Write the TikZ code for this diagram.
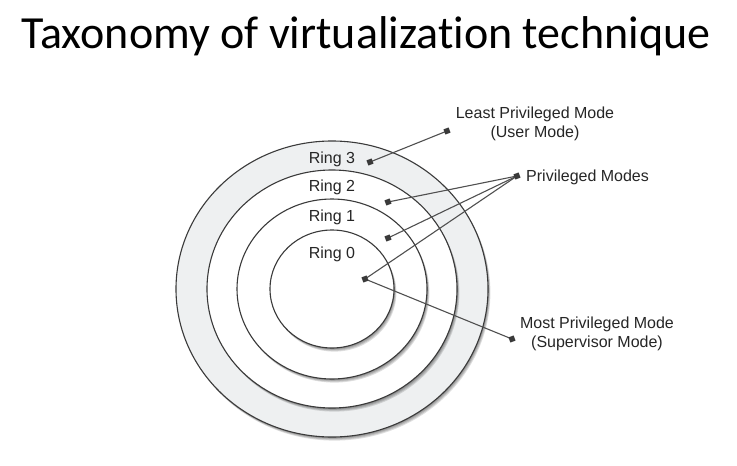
\documentclass[tikz,border=0pt]{standalone}
\usepackage{fontspec}
\setmainfont{Liberation Sans}
\newfontfamily\titlefont[Ligatures=NoCommon]{Carlito}
\definecolor{ringgray}{HTML}{EEF0F1}
\definecolor{linegray}{HTML}{505050}
\definecolor{edgegray}{HTML}{3A3A3A}
\begin{document}
\begin{tikzpicture}[x=1pt,y=-1pt,
  ring/.style={draw=edgegray,line width=1.1pt},
  shd/.style={fill=black,opacity=0.13},
  lbl/.style={font=\fontsize{16}{18.5}\selectfont,text=black!85,inner sep=0pt},
  mk/.style={fill=edgegray,minimum size=5.5pt,inner sep=0pt,draw=none},
  conn/.style={draw=linegray,line width=1.1pt}]
\useasboundingbox (0,0) rectangle (737,466);
\fill[white] (0,0) rectangle (737,466);
\node[inner sep=0pt,anchor=base] (title) at (366,48) {\titlefont\fontsize{46}{50}\selectfont Taxonomy of virtualization technique};
% rings with soft shadows
\foreach \rx/\ry/\col in {156/148/ringgray,125/119/white,95/90/white,62/59/white}{
  \foreach \d in {1,2,3,4}{
    \fill[shd] ({332+0.6*\d},{289+0.9*\d}) ellipse [x radius=\rx,y radius=\ry];
  }
  \path[ring,fill=\col] (332,289) ellipse [x radius=\rx,y radius=\ry];
}
% ring labels
\node[lbl,anchor=base] (r3) at (332,163) {Ring 3};
\node[lbl,anchor=base] (r2) at (332,191) {Ring 2};
\node[lbl,anchor=base] (r1) at (332,221) {Ring 1};
\node[lbl,anchor=base] (r0) at (332,258) {Ring 0};
% markers
\coordinate (c3) at (370,162);
\coordinate (c2) at (388,202);
\coordinate (c1) at (388,238);
\coordinate (c0) at (365,279);
\coordinate (clp) at (447,131);
\coordinate (cpm) at (517,176);
\coordinate (cmp) at (512,339);
% text labels
\node[lbl,align=center,anchor=north] (least) at (535,107) {Least Privileged Mode\\(User Mode)};
\node[lbl,anchor=west] (priv) at (526,177) {Privileged Modes};
\node[lbl,align=center,anchor=north] (most) at (597,317) {Most Privileged Mode\\(Supervisor Mode)};
% connectors
\draw[conn] (c3) -- (clp);
\draw[conn] (c2) -- (cpm);
\draw[conn] (c1) -- (cpm);
\draw[conn] (c0) -- (cpm);
\draw[conn] (c0) -- (cmp);
\foreach \c in {c3,c2,c1,c0,clp,cpm,cmp}{
  \node[mk,rotate=20] (m\c) at (\c) {};
}
\end{tikzpicture}
\end{document}
